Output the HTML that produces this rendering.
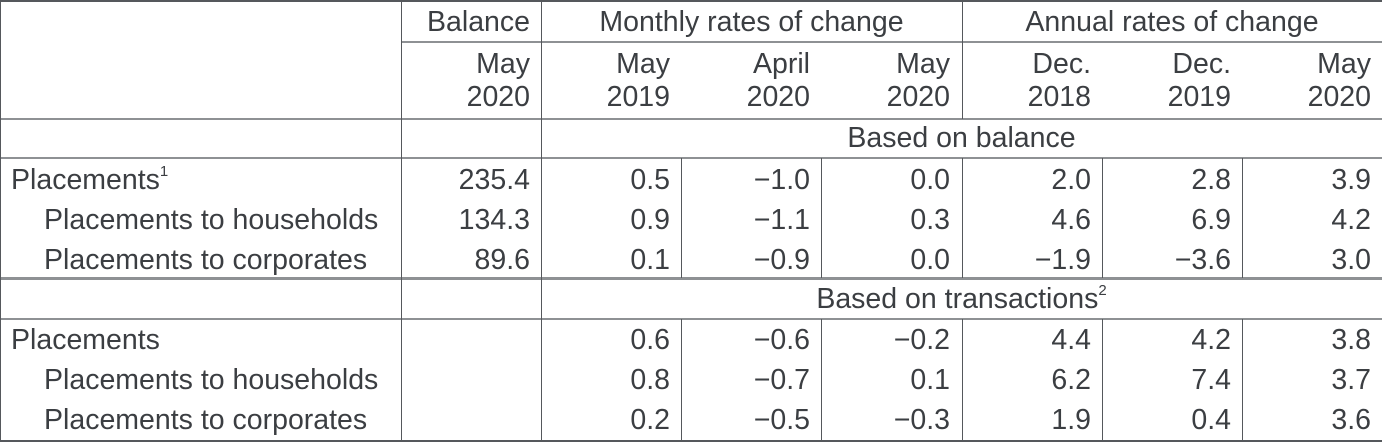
<!DOCTYPE html>
<html><head><meta charset="utf-8"><style>
body{margin:0;width:1382px;height:442px;background:#fff;overflow:hidden;font-family:"Liberation Sans",Arial,sans-serif;color:#3b3e42}
#t{position:relative;width:1382px;height:442px}
.h{position:absolute;height:2px;background:#8e9194}
.v{position:absolute;width:1px;background:#55585c}
.c{position:absolute;font-size:28.5px;line-height:40px;white-space:nowrap}
.r{text-align:right}.m{text-align:center}
sup{font-size:15px;vertical-align:top;line-height:24px}
</style></head><body>
<div id="t">
<div class="h" style="left:0;top:0;width:1382px;height:2px;background:#55585c"></div>
<div class="h" style="left:401px;top:41px;width:981px"></div>
<div class="h" style="left:0;top:118px;width:1382px"></div>
<div class="h" style="left:0;top:157px;width:1382px"></div>
<div class="h" style="left:0;top:277px;width:1382px;height:3px"></div>
<div class="h" style="left:0;top:318px;width:1382px"></div>
<div class="h" style="left:0;top:440px;width:1382px;background:#55585c"></div>
<div class="v" style="left:0;top:0;height:442px"></div>
<div class="v" style="left:401px;top:0;height:442px"></div>
<div class="v" style="left:541px;top:0;height:442px"></div>
<div class="v" style="left:962px;top:0;height:119px"></div>

<div class="c r" style="left:401px;top:2px;width:129px">Balance</div>
<div class="c m" style="left:541px;top:2px;width:421px">Monthly rates of change</div>
<div class="c m" style="left:962px;top:2px;width:420px">Annual rates of change</div>
<div class="c m" style="left:541px;top:118px;width:841px">Based on balance</div>
<div class="c m" style="left:541px;top:279px;width:841px">Based on transactions<sup>2</sup></div>

<div class="c" style="left:11px;top:160px">Placements<sup>1</sup></div>
<div class="c" style="left:44px;top:200px">Placements to households</div>
<div class="c" style="left:44px;top:240px">Placements to corporates</div>
<div class="c" style="left:11px;top:320px">Placements</div>
<div class="c" style="left:44px;top:360px">Placements to households</div>
<div class="c" style="left:44px;top:400px">Placements to corporates</div>
</div>
<script>
const colLeft=[401,541,681,821,962,1102,1242];
const headTop=["May","May","April","May","Dec.","Dec.","May"];
const headBot=["2020","2019","2020","2020","2018","2019","2020"];
const balRows=[["235.4","0.5","\u22121.0","0.0","2.0","2.8","3.9"],["134.3","0.9","\u22121.1","0.3","4.6","6.9","4.2"],["89.6","0.1","\u22120.9","0.0","\u22121.9","\u22123.6","3.0"]];
const txRows=[["","0.6","\u22120.6","\u22120.2","4.4","4.2","3.8"],["","0.8","\u22120.7","0.1","6.2","7.4","3.7"],["","0.2","\u22120.5","\u22120.3","1.9","0.4","3.6"]];
const t=document.getElementById('t');
function cell(txt,i,top,name){const d=document.createElement('div');d.className='c r';d.style.left=colLeft[i]+'px';d.style.top=top+'px';d.style.width='129px';d.textContent=txt;


t.appendChild(d);}
headTop.forEach((s,i)=>cell(s,i,44,'header-month'));
headBot.forEach((s,i)=>cell(s,i,77,'header-year'));
balRows.forEach((r,j)=>r.forEach((s,i)=>cell(s,i,160+40*j,'balance-value')));
txRows.forEach((r,j)=>r.forEach((s,i)=>cell(s,i,320+40*j,'transaction-value')));
[681,821,962,1102,1242].forEach(x=>{[[158,120],[319,122]].forEach(([y,h])=>{const v=document.createElement('div');v.className='v';v.style.left=x+'px';v.style.top=y+'px';v.style.height=h+'px';


t.appendChild(v);});});
</script>
</body></html>
